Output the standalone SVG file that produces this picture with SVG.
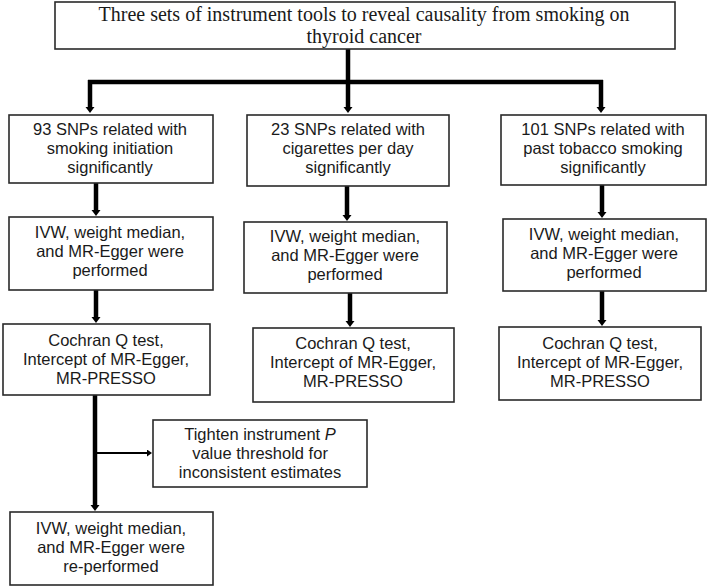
<svg xmlns="http://www.w3.org/2000/svg" width="709" height="588" viewBox="0 0 709 588">
<style>
.box{fill:#fff;stroke:#2a2a2a;stroke-width:1.6}
.t{font-family:"Liberation Sans",Arial,sans-serif;font-size:16.5px;fill:#1a1a1a;text-anchor:middle}
.s{font-family:"Liberation Serif","Times New Roman",serif;font-size:20px;fill:#1a1a1a;text-anchor:middle}
.c{stroke:#000;stroke-width:4.5;fill:none}
.thin{stroke:#000;stroke-width:2;fill:none}
</style>
<defs>
<marker id="ah" markerUnits="userSpaceOnUse" markerWidth="10" markerHeight="10" refX="0" refY="4.5" orient="auto">
<path d="M0,0 L6,4.5 L0,9 z" fill="#000"/>
</marker>
<marker id="ahs" markerUnits="userSpaceOnUse" markerWidth="8" markerHeight="8" refX="0" refY="3.5" orient="auto">
<path d="M0,0 L5,3.5 L0,7 z" fill="#000"/>
</marker>
</defs>
<rect width="709" height="588" fill="#fff"/>
<g id="connectors">
<path class="c" d="M348,49 V82"/>
<path class="c" d="M88,82 H603"/>
<path class="c" d="M90,80 V107" marker-end="url(#ah)"/>
<path class="c" d="M348,80 V107" marker-end="url(#ah)"/>
<path class="c" d="M601,80 V107" marker-end="url(#ah)"/>
<path class="c" d="M96,183 V210" marker-end="url(#ah)"/>
<path class="c" d="M347,186 V215" marker-end="url(#ah)"/>
<path class="c" d="M602,185 V212" marker-end="url(#ah)"/>
<path class="c" d="M96,290 V317" marker-end="url(#ah)"/>
<path class="c" d="M350,293 V321" marker-end="url(#ah)"/>
<path class="c" d="M602,291 V320" marker-end="url(#ah)"/>
<path class="c" d="M95,395 V505" marker-end="url(#ah)"/>
<path class="thin" d="M95,453 H147" marker-end="url(#ahs)"/>
</g>
<g id="top">
<rect class="box" x="55" y="2" width="620" height="47"/>
<text class="s" x="364" y="20.5">Three sets of instrument tools to reveal causality from smoking on</text>
<text class="s" x="364" y="42.7">thyroid cancer</text>
</g>
<g id="snp93">
<rect class="box" x="9" y="115" width="204" height="68"/>
<text class="t" x="110" y="135">93 SNPs related with</text>
<text class="t" x="110" y="154">smoking initiation</text>
<text class="t" x="110" y="173">significantly</text>
</g>
<g id="snp23">
<rect class="box" x="247" y="115" width="202" height="71"/>
<text class="t" x="348" y="135">23 SNPs related with</text>
<text class="t" x="348" y="154">cigarettes per day</text>
<text class="t" x="348" y="173">significantly</text>
</g>
<g id="snp101">
<rect class="box" x="501" y="115" width="205" height="70"/>
<text class="t" x="603" y="135">101 SNPs related with</text>
<text class="t" x="603" y="154">past tobacco smoking</text>
<text class="t" x="603" y="173">significantly</text>
</g>
<g id="ivw1">
<rect class="box" x="9" y="217" width="204" height="73"/>
<text class="t" x="110" y="238">IVW, weight median,</text>
<text class="t" x="110" y="257">and MR-Egger were</text>
<text class="t" x="110" y="276">performed</text>
</g>
<g id="ivw2">
<rect class="box" x="244" y="222" width="203" height="71"/>
<text class="t" x="345" y="242">IVW, weight median,</text>
<text class="t" x="345" y="261">and MR-Egger were</text>
<text class="t" x="345" y="280">performed</text>
</g>
<g id="ivw3">
<rect class="box" x="503" y="219" width="203" height="72"/>
<text class="t" x="604" y="240">IVW, weight median,</text>
<text class="t" x="604" y="259">and MR-Egger were</text>
<text class="t" x="604" y="278">performed</text>
</g>
<g id="coch1">
<rect class="box" x="3" y="324" width="207" height="71"/>
<text class="t" x="106" y="346">Cochran Q test,</text>
<text class="t" x="106" y="365">Intercept of MR-Egger,</text>
<text class="t" x="106" y="384">MR-PRESSO</text>
</g>
<g id="coch2">
<rect class="box" x="253" y="328" width="201" height="74"/>
<text class="t" x="353" y="349">Cochran Q test,</text>
<text class="t" x="353" y="368">Intercept of MR-Egger,</text>
<text class="t" x="353" y="387">MR-PRESSO</text>
</g>
<g id="coch3">
<rect class="box" x="499" y="327" width="202" height="73"/>
<text class="t" x="600" y="349">Cochran Q test,</text>
<text class="t" x="600" y="368">Intercept of MR-Egger,</text>
<text class="t" x="600" y="387">MR-PRESSO</text>
</g>
<g id="tighten">
<rect class="box" x="153" y="420" width="214" height="67"/>
<text class="t" x="260" y="440">Tighten instrument <tspan font-style="italic">P</tspan></text>
<text class="t" x="260" y="459">value threshold for</text>
<text class="t" x="260" y="478">inconsistent estimates</text>
</g>
<g id="ivw1b">
<rect class="box" x="10" y="512" width="203" height="73"/>
<text class="t" x="111" y="534">IVW, weight median,</text>
<text class="t" x="111" y="553">and MR-Egger were</text>
<text class="t" x="111" y="572">re-performed</text>
</g>
</svg>
